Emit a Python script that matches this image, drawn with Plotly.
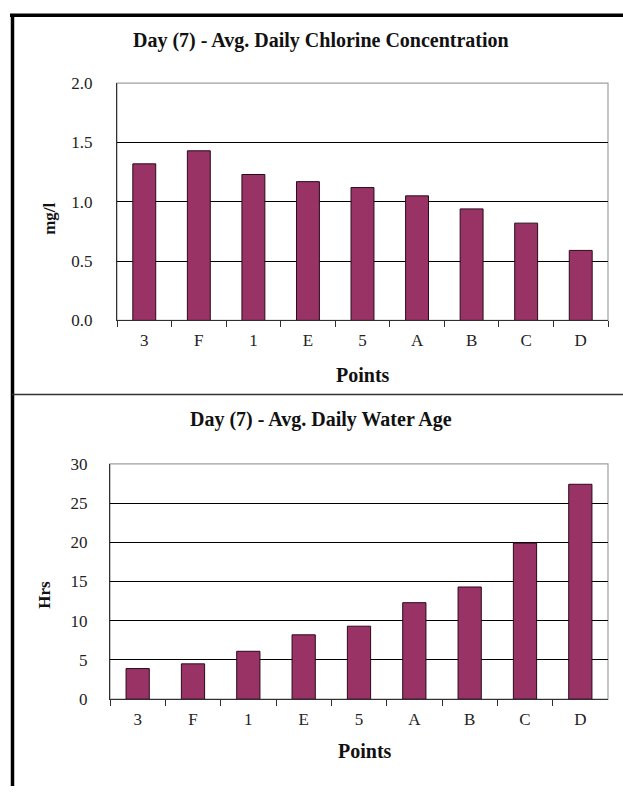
import plotly.graph_objects as go

# Data
points = ["3", "F", "1", "E", "5", "A", "B", "C", "D"]
chlorine = [1.32, 1.43, 1.23, 1.17, 1.12, 1.05, 0.94, 0.82, 0.59]
water_age = [3.9, 4.5, 6.1, 8.2, 9.3, 12.3, 14.3, 19.9, 27.4]

W, H = 623, 796
BAR_COLOR = "#993366"
FONT = "Liberation Serif"


def px(x):
    return x / W


def py(y):
    return 1 - y / H


fig = go.Figure()

fig.add_trace(go.Bar(
    x=points, y=chlorine,
    marker=dict(color=BAR_COLOR, line=dict(color="#2a0a1a", width=1)),
    width=0.42, xaxis="x", yaxis="y",
))
fig.add_trace(go.Bar(
    x=points, y=water_age,
    marker=dict(color=BAR_COLOR, line=dict(color="#2a0a1a", width=1)),
    width=0.42, xaxis="x2", yaxis="y2",
))

tickfont = dict(family=FONT, size=17, color="#222")
xcommon = dict(
    showline=True, linecolor="#303030", linewidth=1,
    ticks="outside", tickson="boundaries", ticklen=6, tickcolor="#303030",
    showgrid=False, tickfont=tickfont, ticklabelstandoff=4,
    fixedrange=True,
)
ycommon = dict(
    showline=True, linecolor="#303030", linewidth=1,
    showgrid=True, gridcolor="#000000", gridwidth=1,
    ticks="", tickfont=tickfont,
    zeroline=False, fixedrange=True,
)

fig.update_layout(
    width=W, height=H,
    margin=dict(l=0, r=0, t=0, b=0),
    paper_bgcolor="white", plot_bgcolor="white",
    showlegend=False,
    xaxis=dict(domain=[px(117), px(608)], anchor="y", **xcommon),
    yaxis=dict(domain=[py(319), py(76)], anchor="x", range=[0, 2.0],
               dtick=0.5, tickformat=".1f", ticklabelstandoff=20, **ycommon),
    xaxis2=dict(domain=[px(110), px(608)], anchor="y2", **xcommon),
    yaxis2=dict(domain=[py(707), py(466)], anchor="x2", range=[0, 30],
                dtick=5, ticklabelstandoff=18, **ycommon),
)

shapes = []
# plot area frames (grey)
for x0, x1, y0, y1 in [(117, 608, 76, 319), (110, 608, 466, 707)]:
    shapes.append(dict(type="rect", xref="paper", yref="paper",
                       x0=px(x0), x1=px(x1), y0=py(y1), y1=py(y0),
                       line=dict(color="#a0a0a0", width=1.2), layer="below"))
# outer border and divider
shapes.append(dict(type="line", xref="paper", yref="paper",
                   x0=px(10), x1=1, y0=py(6.5), y1=py(6.5),
                   line=dict(color="black", width=3.5)))
shapes.append(dict(type="line", xref="paper", yref="paper",
                   x0=px(12.5), x1=px(12.5), y0=0, y1=py(5),
                   line=dict(color="black", width=3.5)))
shapes.append(dict(type="line", xref="paper", yref="paper",
                   x0=px(12), x1=1, y0=py(395), y1=py(395),
                   line=dict(color="#333333", width=1.5)))
fig.update_layout(shapes=shapes)

bold = dict(family=FONT, size=20, color="#111")
small_bold = dict(family=FONT, size=17, color="#111")
ann = [
    dict(text="<b>Day (7) - Avg. Daily Chlorine Concentration</b>", x=px(321), y=py(32), font=bold),
    dict(text="<b>Points</b>", x=px(363), y=py(375), font=bold),
    dict(text="<b>mg/l</b>", x=px(50), y=py(215), textangle=-90, font=small_bold),
    dict(text="<b>Day (7) - Avg. Daily Water Age</b>", x=px(321), y=py(421), font=bold),
    dict(text="<b>Points</b>", x=px(365), y=py(760), font=bold),
    dict(text="<b>Hrs</b>", x=px(45), y=py(600), textangle=-90, font=small_bold),
]
for a in ann:
    a.update(xref="paper", yref="paper", showarrow=False,
             xanchor="center", yanchor="middle")
fig.update_layout(annotations=ann)

# the page body has a default 8px margin; remove it so the figure fills the window
fig.write_html("out.html", config={"displayModeBar": False},
               post_script="document.body.style.margin='0px';")
